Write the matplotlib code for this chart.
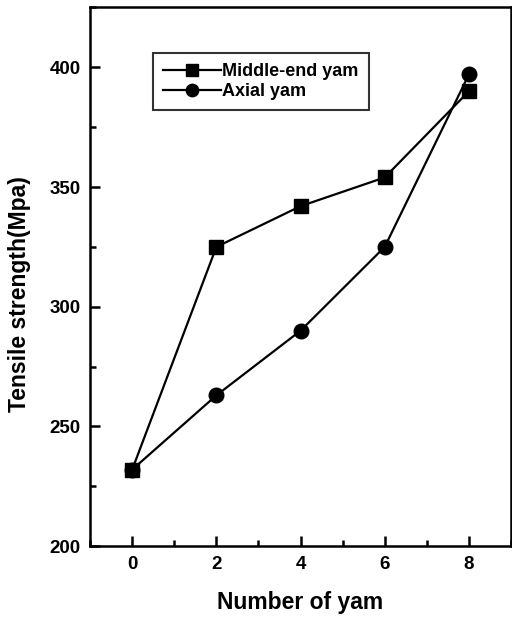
import matplotlib
matplotlib.use("Agg")
import matplotlib.pyplot as plt
from matplotlib.ticker import MultipleLocator

plt.rcParams["font.family"] = ["Liberation Sans", "DejaVu Sans"]
plt.rcParams["font.weight"] = "bold"

yarn_count = [0, 2, 4, 6, 8]
middle_end = [232, 325, 342, 354, 390]
axial = [232, 263, 290, 325, 397]

fig = plt.figure(figsize=(5.12, 6.2), dpi=100)
ax = fig.add_axes([0.176, 0.119, 0.822, 0.869])

ax.plot(yarn_count, middle_end, color="black", linewidth=1.6, marker="s",
        markersize=9.5, label="Middle-end yam")
ax.plot(yarn_count, axial, color="black", linewidth=1.6, marker="o",
        markersize=10.5, label="Axial yam")

ax.set_xlim(-1, 9)
ax.set_ylim(200, 425)
ax.xaxis.set_major_locator(MultipleLocator(2))
ax.xaxis.set_minor_locator(MultipleLocator(1))
ax.yaxis.set_major_locator(MultipleLocator(50))
ax.yaxis.set_minor_locator(MultipleLocator(25))
ax.tick_params(which="both", direction="in", width=1.8, labelsize=13.5)
ax.tick_params(which="major", length=7, pad=7)
ax.tick_params(which="minor", length=4)
for s in ax.spines.values():
    s.set_linewidth(1.8)

ax.set_xlabel("Number of yam", fontsize=16.5, fontweight="bold", labelpad=13)
ax.set_ylabel("Tensile strength(Mpa)", fontsize=16.5, fontweight="bold")
ax.yaxis.set_label_coords(-0.14, 0.468)

leg = ax.legend(loc="upper left", bbox_to_anchor=(0.149, 0.915), fontsize=13,
                frameon=True, fancybox=False, edgecolor="black",
                handlelength=3.2, handletextpad=0.1, borderpad=0.55,
                labelspacing=0.15, borderaxespad=0, markerscale=0.85)
leg.get_frame().set_linewidth(1.5)

fig.savefig("out.png", dpi=100)
